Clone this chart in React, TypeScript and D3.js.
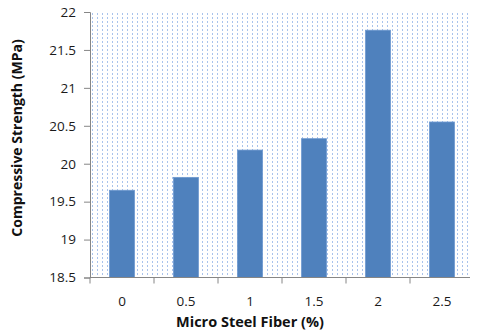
import { useEffect, useRef } from 'react'
import * as d3 from 'd3'

const categories = ['0', '0.5', '1', '1.5', '2', '2.5']
const strength = [19.65, 19.82, 20.18, 20.33, 21.76, 20.55]
const yTicks = [18.5, 19, 19.5, 20, 20.5, 21, 21.5, 22]

export default function App() {
  const svgRef = useRef<SVGSVGElement>(null)

  useEffect(() => {
    if (!svgRef.current) return
    const svg = d3.select(svgRef.current)
    svg.selectAll('*').remove()

    const left = 90, right = 474, top = 12, bottom = 277.5

    const x = d3.scaleBand<string>()
      .domain(categories)
      .range([left, right])
      .paddingInner(0.61)
      .paddingOuter(0.305)

    const y = d3.scaleLinear().domain([18.5, 22]).range([bottom, top])

    // dotted plot-area fill
    const defs = svg.append('defs')
    const pat = defs.append('pattern')
      .attr('id', 'dots')
      .attr('patternUnits', 'userSpaceOnUse')
      .attr('width', 5)
      .attr('height', 4)
    pat.append('rect')
      .attr('x', 2).attr('y', 1)
      .attr('width', 1).attr('height', 2)
      .attr('fill', '#a9c3ec')

    svg.append('rect')
      .attr('x', left + 1)
      .attr('y', top - 1)
      .attr('width', 467 - left)
      .attr('height', bottom - top + 1)
      .attr('fill', 'url(#dots)')
      .attr('shape-rendering', 'crispEdges')

    svg.append('g')
      .selectAll('rect')
      .data(strength)
      .enter()
      .append('rect')
      .attr('x', (_, i) => x(categories[i])!)
      .attr('y', d => y(d))
      .attr('width', x.bandwidth())
      .attr('height', d => bottom - y(d))
      .attr('fill', '#4f81bd')
      .attr('stroke', '#6f9ad0')
      .attr('stroke-width', 0.8)

    const font = "'Open Sans', sans-serif"

    // y axis
    const ya = svg.append('g')
      .attr('transform', `translate(${left},0)`)
      .call(d3.axisLeft(y).tickValues(yTicks).tickFormat(d3.format('')).tickSize(6).tickPadding(8))
    ya.select('.domain').attr('stroke', '#868686')
    ya.selectAll('line').attr('stroke', '#868686')
    ya.selectAll('text')
      .attr('font-family', font)
      .attr('font-size', 13.5)
      .attr('fill', '#1a1a1a')

    // x axis, ticks between categories
    const xa = svg.append('g').attr('transform', `translate(0,${bottom})`)
    xa.append('line')
      .attr('x1', left).attr('x2', 470)
      .attr('stroke', '#868686')
    const step = x.step()
    xa.selectAll('.tk')
      .data(d3.range(categories.length))
      .enter()
      .append('line')
      .attr('x1', i => left + step * i)
      .attr('x2', i => left + step * i)
      .attr('y1', 0).attr('y2', 6)
      .attr('stroke', '#868686')
    xa.selectAll('text')
      .data(categories)
      .enter()
      .append('text')
      .attr('x', d => x(d)! + x.bandwidth() / 2)
      .attr('y', 28)
      .attr('text-anchor', 'middle')
      .attr('font-family', font)
      .attr('font-size', 13.5)
      .attr('fill', '#1a1a1a')
      .text(d => d)

    svg.append('text')
      .attr('x', 250)
      .attr('y', 327)
      .attr('text-anchor', 'middle')
      .attr('font-family', font)
      .attr('font-weight', 'bold')
      .attr('font-size', 14.5)
      .attr('fill', '#111')
      .text('Micro Steel Fiber (%)')

    svg.append('text')
      .attr('transform', `translate(22,138) rotate(-90)`)
      .attr('text-anchor', 'middle')
      .attr('font-family', font)
      .attr('font-weight', 'bold')
      .attr('font-size', 14)
      .attr('fill', '#111')
      .text('Compressive Strength (MPa)')
  }, [])

  return (
    <svg
      ref={svgRef}
      width={480}
      height={336}
      style={{ position: 'absolute', left: 0, top: 0, background: '#fff' }}
    />
  )
}
